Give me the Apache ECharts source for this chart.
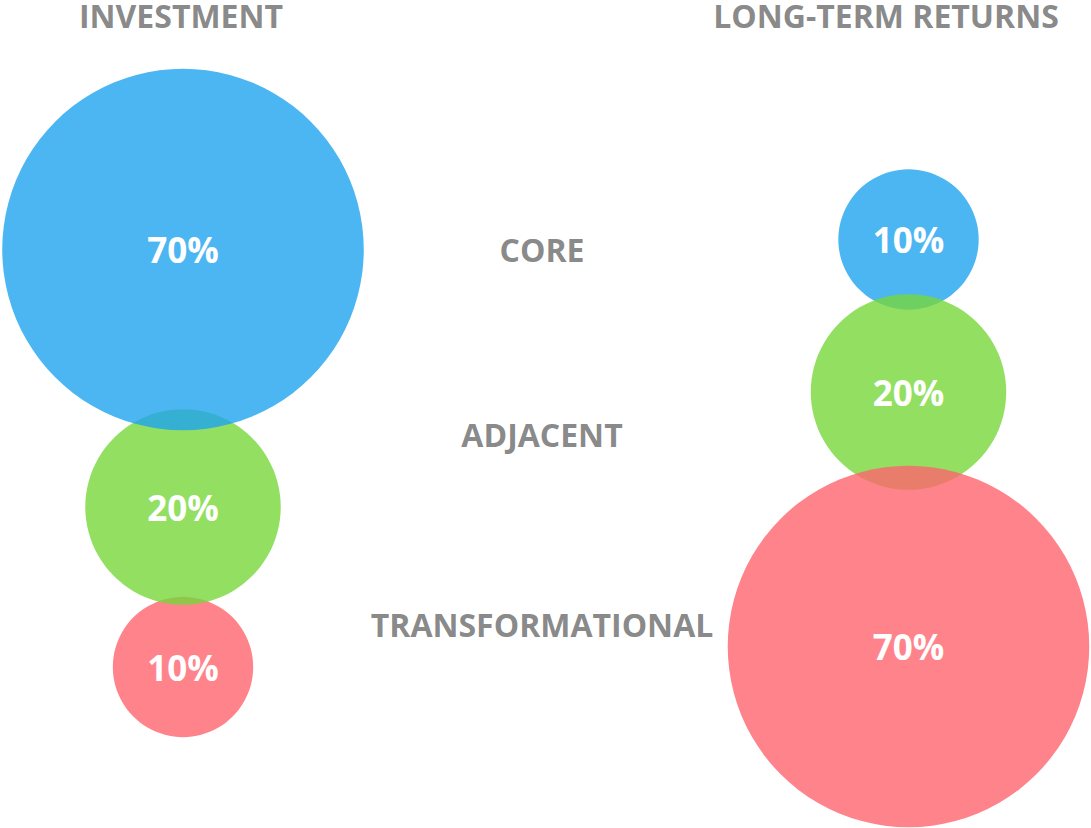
<!DOCTYPE html>
<html>
<head>
<meta charset="utf-8">
<script src="https://cdn.jsdelivr.net/npm/echarts@6/dist/echarts.min.js"></script>
<style>
html,body{margin:0;padding:0;background:#fff;}
#chart{width:1091px;height:828px;}
</style>
</head>
<body>
<div id="chart"></div>
<script>
// ---- data ----
const categories = ['CORE', 'ADJACENT', 'TRANSFORMATIONAL'];
const columnTitles = ['INVESTMENT', 'LONG-TERM RETURNS'];
const investment = [70, 20, 10];
const longTermReturns = [10, 20, 70];

// ---- layout (pixel-space positions on hidden value axes) ----
const colX = [183, 908.5];
const centersY = [[249.5, 507, 667], [239.5, 392, 646.5]];
const labelX = 542;
const labelY = [249, 434, 624];
const titleX = [181, 886];
const titleY = 15;

// ---- styles ----
const colors = ['rgba(31,164,239,0.8)', 'rgba(119,215,59,0.8)', 'rgba(255,100,110,0.8)'];
const textGray = '#6a6a6a';
const FONT = '"Open Sans", "Noto Sans", sans-serif';

function bubbleData(values, col) {
  const items = values.map((v, i) => ({
    value: [colX[col], centersY[col][i], v],
    itemStyle: { color: colors[i], opacity: 1 }
  }));
  // larger bubbles drawn on top
  return items.slice().sort((a, b) => a.value[2] - b.value[2]);
}

const bubbleSeries = (values, col) => ({
  type: 'scatter',
  symbol: 'circle',
  symbolSize: d => Math.sqrt(1850 * d[2] + 1200),
  data: bubbleData(values, col),
  itemStyle: { opacity: 1 },
  label: {
    show: true,
    position: 'inside',
    formatter: p => p.value[2] + '%',
    color: '#fff',
    fontFamily: FONT,
    fontWeight: 'bold',
    fontSize: 35
  },
  emphasis: { disabled: true },
  silent: true
});

const textSeries = (names, xs, ys, size, lh) => ({
  type: 'scatter',
  symbolSize: 0,
  silent: true,
  data: names.map((t, i) => ({ name: t, value: [xs[i], ys[i]] })),
  label: {
    show: true,
    position: 'inside',
    formatter: p => p.name,
    color: textGray,
    fontFamily: FONT,
    fontWeight: 'bold',
    fontSize: size,
    lineHeight: lh
  }
});

const option = {
  animation: false,
  backgroundColor: '#fff',
  grid: { left: 0, right: 0, top: 0, bottom: 0 },
  xAxis: { type: 'value', min: 0, max: 1091, show: false },
  yAxis: { type: 'value', min: 0, max: 828, inverse: true, show: false },
  series: [
    bubbleSeries(investment, 0),
    bubbleSeries(longTermReturns, 1),
    textSeries(categories, categories.map(() => labelX), labelY, 32, 34),
    textSeries(columnTitles, titleX, [titleY, titleY], 32, 20)
  ]
};

const chart = echarts.init(document.getElementById('chart'), null, { renderer: 'svg' });
chart.setOption(option);
</script>
</body>
</html>
